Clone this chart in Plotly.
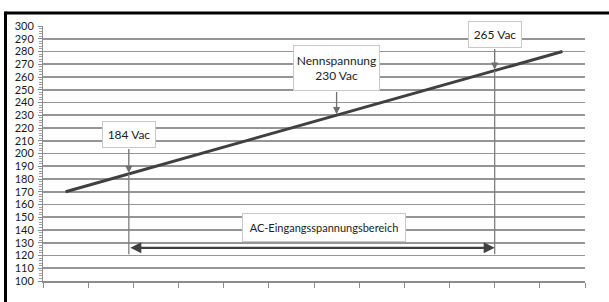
import plotly.graph_objects as go

# Data
categories = list(range(1, 13))
voltage = [170, 180, 190, 200, 210, 220, 230, 240, 250, 260, 270, 280]
y_ticks = list(range(100, 301, 10))
marker_labels = ["184 Vac", "Nennspannung<br>230 Vac", "265 Vac"]
marker_values = [184, 230, 265]
range_label = "AC-Eingangsspannungsbereich"

# category centers at 0.5, 1.5, ...
x_pos = [c - 0.5 for c in categories]

def x_of(v):
    # position along the line where the voltage equals v
    for i in range(len(voltage) - 1):
        if voltage[i] <= v <= voltage[i + 1]:
            t = (v - voltage[i]) / (voltage[i + 1] - voltage[i])
            return x_pos[i] + t * (x_pos[i + 1] - x_pos[i])
    return x_pos[-1]

FONT = "Lato, Open Sans, sans-serif"
fig = go.Figure()
fig.add_trace(go.Scatter(x=x_pos, y=voltage, mode="lines",
                         line=dict(color="#404040", width=3), hoverinfo="skip"))

W, H = 609, 302
L, R, T, B = 43, 24, 26, 21
pw, ph = W - L - R, H - T - B

def py_to_val(py):
    return 100 + (H - B - py) / ph * 200

annotations = []
shapes = []
bottom_val = 121
box_info = [  # (center y px, width, height, extend line below)
    (134, 54, 27, True),
    (67.5, 87, 46, False),
    (34, 54, 27, True),
]
for lbl, v, (cy, bw, bh, ext) in zip(marker_labels, marker_values, box_info):
    xv = x_of(v)
    box_bottom = py_to_val(cy + bh / 2)
    if ext:
        shapes.append(dict(type="line", xref="x", yref="y", x0=xv, x1=xv,
                           y0=v, y1=bottom_val, line=dict(color="#7f7f7f", width=1.3)))
    annotations.append(dict(x=xv, y=v, xref="x", yref="y", ax=xv, ay=box_bottom,
                            axref="x", ayref="y", text="", showarrow=True,
                            arrowhead=2, arrowsize=1.1, arrowwidth=1.3,
                            arrowcolor="#6f6f6f", standoff=1))
    annotations.append(dict(x=xv, y=py_to_val(cy), xref="x", yref="y", text=lbl,
                            showarrow=False, bgcolor="white", bordercolor="#c8c8c8",
                            borderwidth=1, borderpad=0, width=bw - 2, height=bh - 2,
                            align="center", valign="middle",
                            font=dict(family=FONT, size=12, color="#222222")))

# horizontal range arrow
x_lo, x_hi = x_of(marker_values[0]), x_of(marker_values[2])
arrow_val = 126
annotations.append(dict(x=x_hi, y=arrow_val, ax=x_lo, ay=arrow_val, xref="x", yref="y",
                        axref="x", ayref="y", text="", showarrow=True,
                        arrowhead=2, startarrowhead=2, arrowside="end+start",
                        arrowsize=1, startarrowsize=1, arrowwidth=2.2,
                        arrowcolor="#404040"))
annotations.append(dict(x=(323.8 - L) / pw * 12, y=py_to_val(227), xref="x", yref="y",
                        text=range_label, showarrow=False, bgcolor="white",
                        bordercolor="#c8c8c8", borderwidth=1, borderpad=0,
                        width=162, height=27, font=dict(family=FONT, size=11, color="#222222")))

# outer black frame (top and left)
shapes.append(dict(type="line", xref="paper", yref="paper",
                   x0=(5.5 - L) / pw, x1=(W + 5 - L) / pw,
                   y0=(H - B - 13) / ph, y1=(H - B - 13) / ph,
                   line=dict(color="black", width=3)))
shapes.append(dict(type="line", xref="paper", yref="paper",
                   x0=(5.5 - L) / pw, x1=(5.5 - L) / pw,
                   y0=(H - B - 11.5) / ph, y1=(H - B - H - 5) / ph,
                   line=dict(color="black", width=3)))

fig.update_layout(
    width=W, height=H, margin=dict(l=L, r=R, t=T, b=B, autoexpand=False),
    paper_bgcolor="white", plot_bgcolor="white", showlegend=False,
    annotations=annotations, shapes=shapes,
    font=dict(family=FONT, size=11, color="#222222"),
    xaxis=dict(range=[0, 12], tickvals=list(range(0, 13)), showticklabels=False,
               ticks="outside", ticklen=5, tickcolor="#8c8c8c", tickwidth=1,
               showgrid=False, showline=True, linecolor="#8c8c8c", linewidth=1.5,
               zeroline=False, fixedrange=True, automargin=False),
    yaxis=dict(range=[100, 300], tickvals=y_ticks, ticks="outside", ticklen=4,
               tickcolor="#8c8c8c", showgrid=True, gridcolor="#959595", gridwidth=1.6,
               showline=True, linecolor="#8c8c8c", linewidth=1, zeroline=False,
               minor=dict(dtick=2, ticks="outside", ticklen=3, tickcolor="#a0a0a0",
                          showgrid=False),
               ticklabelstandoff=2,
               tickfont=dict(family=FONT, size=11, color="#1a1a1a"), fixedrange=True,
               automargin=False),
)

fig.write_html("out.html", config={"displayModeBar": False, "staticPlot": True},
               post_script="document.body.style.margin='0';document.body.style.overflow='hidden';")
